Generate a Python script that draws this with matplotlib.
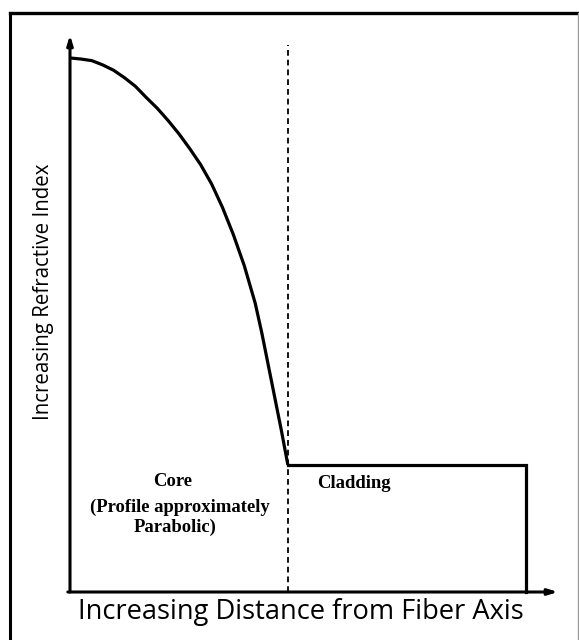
import matplotlib
matplotlib.use("Agg")
import matplotlib.pyplot as plt
from matplotlib.lines import Line2D

# 屈折率分布（コア: ほぼ放物線、クラッド: 一定）
core_radius = [0, 0.05, 0.10, 0.15, 0.20, 0.25, 0.30, 0.35, 0.40, 0.45, 0.50,
               0.55, 0.60, 0.65, 0.70, 0.75, 0.80, 0.85, 0.88, 0.91, 0.94,
               0.97, 1.0]
core_index = [1.0, 0.998, 0.995, 0.987, 0.977, 0.963, 0.947, 0.926, 0.906,
              0.883, 0.858, 0.830, 0.800, 0.764, 0.720, 0.669, 0.611, 0.541,
              0.486, 0.425, 0.364, 0.303, 0.238]
clad_radius = [1.0, 2.092, 2.092]
clad_index = [0.238, 0.238, 0.0]
boundary_r = 1.0
boundary_top = 1.025
axis_top = 1.043
axis_right = 2.24

x_label = "Increasing Distance from Fiber Axis"
y_label = "Increasing Refractive Index"
core_lines = ["Core", "(Profile approximately", "Parabolic)"]
clad_text = "Cladding"

W, H = 579, 640
fig = plt.figure(figsize=(W / 100, H / 100), dpi=100)
fig.patch.set_facecolor("white")

# 外枠（左と上は太線、右は薄いグレー）
fig.add_artist(Line2D([10 / W, 10 / W], [0, 1 - 13 / H], color="black", lw=2.2,
                      transform=fig.transFigure))
fig.add_artist(Line2D([10 / W, 1], [1 - 13 / H, 1 - 13 / H], color="black", lw=2.4,
                      transform=fig.transFigure))
fig.add_artist(Line2D([1 - 1.5 / W, 1 - 1.5 / W], [0, 1 - 13 / H], color="#9a9a9a", lw=1.0,
                      transform=fig.transFigure))

ax = fig.add_axes([70 / W, 48 / H, 488 / W, 557 / H])
ax.set_xlim(0, axis_right)
ax.set_ylim(0, axis_top)
ax.axis("off")

# 軸（矢印付き）
arrow = dict(arrowstyle="-|>,head_length=0.55,head_width=0.17", lw=2.2, color="black",
             shrinkA=0, shrinkB=0)
ax.annotate("", xy=(0, axis_top), xytext=(0, 0), arrowprops=arrow, annotation_clip=False)
ax.annotate("", xy=(axis_right, 0), xytext=(-0.01, 0), arrowprops=arrow, annotation_clip=False)

# コアとクラッドの境界（破線）
ax.plot([boundary_r, boundary_r], [0, boundary_top], color="black", lw=1.3,
        linestyle=(0, (3.2, 2.2)), clip_on=False)

ax.plot(core_radius, core_index, color="black", lw=2.3, solid_capstyle="butt",
        solid_joinstyle="round", clip_on=False)
ax.plot(clad_radius, clad_index, color="black", lw=2.3, solid_joinstyle="miter",
        clip_on=False)

serif = dict(family="Liberation Serif", weight="bold", size=13.4)
# 各行の位置（データ座標）
core_x = [0.472, 0.504, 0.481]
core_y = [0.206, 0.159, 0.122]
for s, tx, ty in zip(core_lines, core_x, core_y):
    ax.text(tx, ty, s, ha="center", va="center", **serif)
ax.text(1.133, 0.204, clad_text, ha="left", va="center", **serif)

fig.text(301 / W, 1 - 612 / H, x_label, ha="center", va="center",
         family="Open Sans", size=19.6)
fig.text(44 / W, 1 - 292 / H, y_label, ha="center", va="center", rotation=90,
         family="Open Sans", size=14.8)

fig.savefig("out.png", dpi=100, facecolor="white")
